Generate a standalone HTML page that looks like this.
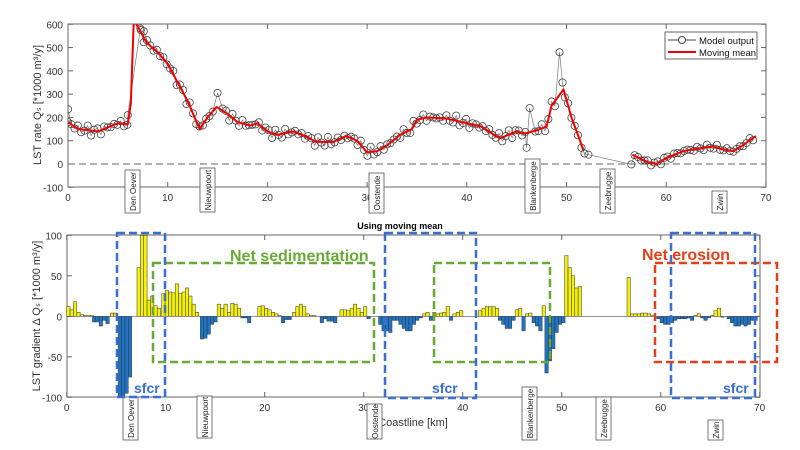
<!DOCTYPE html>
<html><head><meta charset="utf-8"><style>
body{margin:0;background:#fff}
svg{display:block}
text{font-family:"Liberation Sans",sans-serif}
</style></head><body>
<svg id="s" width="800" height="450" xmlns="http://www.w3.org/2000/svg">
<rect width="800" height="450" fill="#fff"/>
<g id="top"></g><g id="bot"></g>
</svg>
<script>
const NS="http://www.w3.org/2000/svg";
const S=document.getElementById('s');
function el(t,a,txt,p){const e=document.createElementNS(NS,t);for(const k in a)e.setAttribute(k,a[k]);if(txt!=null)e.textContent=txt;(p||S).appendChild(e);return e;}
// ---------- TOP ----------
const TX=k=>68+k*9.97, TY=v=>164-v*0.2329;
const mm=[[0,180],[1,150],[3,140],[5,175],[6,170],[6.3,260],[6.6,620],[7.9,520],[9,480],[10,430],[11,350],[12,270],[13.2,150],[14,200],[14.9,245],[16,215],[17,180],[18.3,165],[19,175],[20,140],[21,125],[22.6,140],[23.5,125],[24.9,95],[26.6,95],[27.9,120],[29,100],[30,50],[31,55],[32,80],[33.3,125],[34.5,150],[35,190],[36,200],[38,195],[40,175],[41.5,160],[43.3,110],[45,140],[45.8,130],[47,145],[48,160],[48.5,250],[49.7,320],[50.5,200],[51.7,60]];
const mm2=[[56.6,40],[58,10],[59,0],[60,25],[61.7,55],[63,65],[64.7,75],[65.5,65],[66.7,55],[67.5,75],[69,120]];
function interp(a,k){for(let i=0;i<a.length-1;i++){if(k>=a[i][0]&&k<=a[i+1][0]){const t=(k-a[i][0])/(a[i+1][0]-a[i][0]);return a[i][1]+t*(a[i+1][1]-a[i][1]);}}return null;}
const T=document.getElementById('top');
el('rect',{x:68,y:24,width:698,height:163,fill:'none',stroke:'#666','stroke-width':1},null,T);
el('line',{x1:68,y1:164,x2:766,y2:164,stroke:'#666','stroke-dasharray':'7,4','stroke-width':1},null,T);
for(let v=-100;v<=600;v+=100){const y=TY(v);el('line',{x1:68,y1:y,x2:73,y2:y,stroke:'#666'},null,T);el('line',{x1:761,y1:y,x2:766,y2:y,stroke:'#666'},null,T);el('text',{x:63,y:y+4,'font-size':10,'text-anchor':'end',fill:'#333'},v,T);}
for(let k=0;k<=70;k+=10){const x=TX(k);el('line',{x1:x,y1:24,x2:x,y2:29,stroke:'#666'},null,T);el('line',{x1:x,y1:182,x2:x,y2:187,stroke:'#666'},null,T);el('text',{x:x,y:201,'font-size':10,'text-anchor':'middle',fill:'#333'},k,T);}
let pts=[];
for(let k=0;k<=51.2;k+=0.33){let v=interp(mm,k);let n=14*Math.sin(k*7.3)+9*Math.sin(k*13.1);if(k>6.2&&k<7.2)continue;v+=n;pts.push([k,v]);}
pts=pts.filter(p=>!(p[0]>14.8&&p[0]<15.3)&&!(p[0]>45.9&&p[0]<46.6)&&!(p[0]>49&&p[0]<49.8));
pts.push([0,235],[6.0,210],[7.3,575],[7.6,570],[15.0,305],[46.0,70],[46.3,240],[49.3,480],[49.6,350]);
pts.push([51.5,70],[51.8,45],[52.2,40]);
for(let k=56.5;k<=69;k+=0.33){let v=interp(mm2,k)+8*Math.sin(k*6.1)+5*Math.sin(k*11.7);pts.push([k,v]);}
pts.sort((a,b)=>a[0]-b[0]);
const cp=document.createElementNS(NS,'clipPath');cp.id='c1';T.appendChild(cp);el('rect',{x:68,y:24,width:698,height:163},null,cp);
const G=el('g',{'clip-path':'url(#c1)'},null,T);
el('polyline',{points:pts.map(p=>TX(p[0])+','+TY(p[1])).join(' '),fill:'none',stroke:'#777','stroke-width':0.7},null,G);
pts.forEach(p=>el('circle',{cx:TX(p[0]),cy:TY(p[1]),r:3.6,fill:'none',stroke:'#444','stroke-width':0.8},null,G));
el('polyline',{points:mm.map(p=>TX(p[0])+','+TY(p[1])).join(' '),fill:'none',stroke:'#e00','stroke-width':2,'stroke-linejoin':'round'},null,G);
el('polyline',{points:mm2.map(p=>TX(p[0])+','+TY(p[1])).join(' '),fill:'none',stroke:'#e00','stroke-width':2,'stroke-linejoin':'round'},null,G);
el('rect',{x:665,y:32,width:92,height:27,fill:'#fff',stroke:'#666'},null,T);
el('line',{x1:668,y1:40,x2:696,y2:40,stroke:'#444'},null,T);el('circle',{cx:682,cy:40,r:3.5,fill:'#fff',stroke:'#444'},null,T);
el('text',{x:699,y:44,'font-size':9.5,fill:'#111'},'Model output',T);
el('line',{x1:668,y1:52,x2:696,y2:52,stroke:'#e00','stroke-width':2},null,T);
el('text',{x:699,y:56,'font-size':9.5,fill:'#111'},'Moving mean',T);
el('text',{transform:'translate(41,105) rotate(-90)','font-size':11,'text-anchor':'middle',fill:'#333'},'LST rate Q\u209B [*1000 m\u00B3/y]',T);
function lbl(x,y1,y2,t,p){el('rect',{x:x,y:y1,width:15,height:y2-y1,fill:'#fff',stroke:'#555','stroke-width':0.8},null,p);el('text',{transform:`translate(${x+11},${(y1+y2)/2}) rotate(-90)`,'font-size':8,'text-anchor':'middle',fill:'#222'},t,p);}
lbl(125,170,213,'Den Oever',T);lbl(200,168,212,'Nieuwpoort',T);lbl(369,173,213,'Oostende',T);lbl(525,159,213,'Blankenberge',T);lbl(600,169,213,'Zeebrugge',T);lbl(712,191,213,'Zwin',T);
// ---------- BOTTOM ----------
const B=document.getElementById('bot');
const BX=k=>66.7+k*9.9, BY=v=>316.3-v*0.81;
el('text',{x:400,y:229,'font-size':9,'font-weight':'bold','text-anchor':'middle',fill:'#000'},'Using moving mean',B);
el('rect',{x:67,y:235,width:693,height:162,fill:'none',stroke:'#666'},null,B);
for(let v=-100;v<=100;v+=50){const y=BY(v);el('line',{x1:67,y1:y,x2:72,y2:y,stroke:'#666'},null,B);el('line',{x1:755,y1:y,x2:760,y2:y,stroke:'#666'},null,B);el('text',{x:62,y:y+4,'font-size':10,'text-anchor':'end',fill:'#333'},v,B);}
for(let k=0;k<=70;k+=10){const x=BX(k);el('line',{x1:x,y1:235,x2:x,y2:240,stroke:'#666'},null,B);el('line',{x1:x,y1:392,x2:x,y2:397,stroke:'#666'},null,B);el('text',{x:x,y:411,'font-size':10,'text-anchor':'middle',fill:'#333'},k,B);}
const segs=[[0,[12,8,18,5,2,1,1,1]],[2.6,[-7,-7,-12,-5,-9]],[4.4,[4,4]],[5.2,[-100,-100,-95,-75]],[7.1,[60,100,100,20,25,13,10]],[9.6,[28,32,30,29,40,28,30,35,25,15,5]],[13.5,[-28,-27,-22,-10,-7]],[15.2,[15,10,15,5,16,15,10,-2,-2,-8]],[19.3,[12,13,10,8,5,3,1,-8,-4,-4]],[22.8,[5,12,15,12,3,1,1]],[25.6,[-8,-3,-6,-6,-8]],[27.6,[8,8,7,10,15,10,5,12,-3]],[31.5,[-10,-18,-18,-20,-5,-5,-10,-15,-18,-18,-10,-5]],[35.6,[-2,3,5,-5,5,3,4,5,12,-5,3,5,7]],[41.6,[7,10,12,12,12,10]],[43.6,[-5,-10,-15,-15,-5,8,10,-18,3,4,-8,-12,-18,13,-3]],[48.3,[-70,-55,-40,-20,-10,-8]],[50.3,[75,60,50,35,37]],[56.6,[48,3,3,3,4,4,3,1]],[59.6,[-3,-8,-10,-10,-8,-5,-3,-3,-3,-2,-5,1,3,-2,-5,-2,1,7,10,-1]],[66.7,[-3,-8,-12,-12,-10,-12,-10,-5,-5]]];
const w=0.34;
segs.forEach(s=>s[1].forEach((v,i)=>{const k=s[0]+i*w;const x=BX(k);const y0=BY(0),y1=BY(Math.max(-100,Math.min(100,v)));el('rect',{x:x,y:Math.min(y0,y1),width:w*9.9,height:Math.abs(y1-y0),fill:v>0?'#f4f00a':'#1f74c4',stroke:'#333','stroke-width':0.5},null,B);}));
el('line',{x1:67,y1:BY(0),x2:760,y2:BY(0),stroke:'#555','stroke-width':0.6},null,B);
el('text',{transform:'translate(40,316) rotate(-90)','font-size':11,'text-anchor':'middle',fill:'#333'},'LST gradient \u0394 Q\u209B [*1000 m\u00B3/y]',B);
el('text',{x:413,y:426,'font-size':11,'text-anchor':'middle',fill:'#333'},'Coastline [km]',B);
lbl(123,397,440,'Den Oever',B);lbl(197,396,438,'Nieuwpoort',B);lbl(367,404,439,'Oostende',B);lbl(522,387,440,'Blankenberge',B);lbl(596,397,440,'Zeebrugge',B);lbl(708,420,440,'Zwin',B);
function db(x1,y1,x2,y2,c){el('rect',{x:x1,y:y1,width:x2-x1,height:y2-y1,fill:'none',stroke:c,'stroke-width':2.5,'stroke-dasharray':'8,4'},null,B);}
db(153,263,374,362,'#6aa83a');db(434,263,550,362,'#6aa83a');db(655,263,777,362,'#e0401a');
db(117,233,165,397,'#3a6fd0');db(385,233,476,398,'#3a6fd0');db(671,233,755,398,'#3a6fd0');
el('text',{x:230,y:261,'font-size':16,'font-weight':'bold',fill:'#6aa83a'},'Net sedimentation',B);
el('text',{x:642,y:260,'font-size':16,'font-weight':'bold',fill:'#e0401a'},'Net erosion',B);
[[134,393],[432,393],[723,393]].forEach(p=>el('text',{x:p[0],y:p[1],'font-size':14,'font-weight':'bold',fill:'#3a6fd0'},'sfcr',B));
</script>
</body></html>
